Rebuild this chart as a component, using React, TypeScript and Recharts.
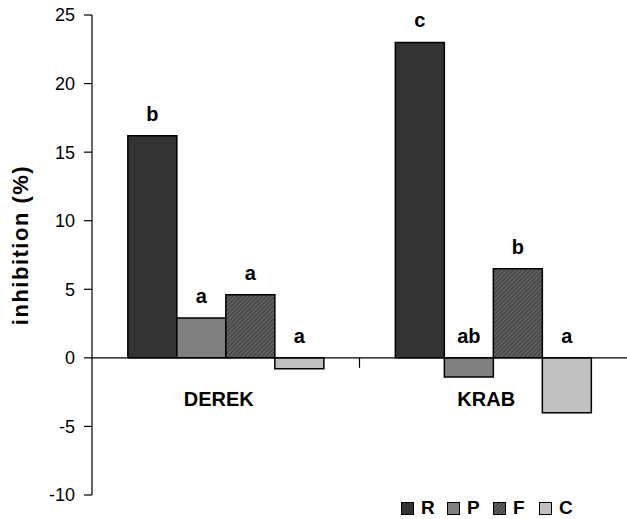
import { BarChart, Bar, XAxis, YAxis, Legend, ReferenceLine, ReferenceDot, LabelList } from 'recharts'

const categories = ['DEREK', 'KRAB']
const seriesNames = ['R', 'P', 'F', 'C']
const valuesR = [16.2, 23.0]
const valuesP = [2.9, -1.4]
const valuesF = [4.6, 6.5]
const valuesC = [-0.8, -4.0]
const lettersR = ['b', 'c']
const lettersP = ['a', 'ab']
const lettersF = ['a', 'b']
const lettersC = ['a', 'a']
const yTicks = [-10, -5, 0, 5, 10, 15, 20, 25]

const fills: Record<string, string> = {
  R: '#333333',
  P: '#808080',
  F: 'url(#hatchF)',
  C: '#c0c0c0',
}

const data = categories.map((name, i) => ({
  name,
  R: valuesR[i],
  P: valuesP[i],
  F: valuesF[i],
  C: valuesC[i],
  lR: lettersR[i],
  lP: lettersP[i],
  lF: lettersF[i],
  lC: lettersC[i],
}))

const font = 'Arial, "Liberation Sans", Helvetica, sans-serif'

// letter above each bar (above the zero line when the bar is negative)
const letterLabel = (props: any) => {
  const { x, y, width, height, value } = props
  const top = Math.min(y, y + height)
  return (
    <text x={x + width / 2} y={top - 15} textAnchor="middle" fontSize={20} fontWeight="bold" fontFamily={font} fill="#000">
      {value}
    </text>
  )
}

// x axis drawn at zero, with one tick between the two groups
const zeroAxis = (p: any) => {
  const mid = (p.x1 + p.x2) / 2
  return (
    <g>
      <line x1={p.x1} y1={p.y1} x2={p.x2} y2={p.y2} stroke="#000" strokeWidth={1.2} />
      <line x1={mid} y1={p.y1} x2={mid} y2={p.y1 + 10} stroke="#000" strokeWidth={1.2} />
    </g>
  )
}

const categoryLabel = (name: string) => (props: any) => {
  const vb = props.viewBox
  const cx = vb.x + vb.width / 2
  const cy = vb.y + vb.height / 2
  return (
    <text x={cx - 7} y={cy + 48} textAnchor="middle" fontSize={20} fontWeight="bold" fontFamily={font} fill="#000">
      {name}
    </text>
  )
}

const legendContent = (props: any) => {
  const payload = [...(props.payload || [])].sort(
    (a: any, b: any) => seriesNames.indexOf(a.value) - seriesNames.indexOf(b.value)
  )
  return (
    <div style={{ display: 'flex', fontFamily: font }}>
      {payload.map((entry: any) => (
        <div key={entry.value} style={{ display: 'flex', alignItems: 'center', width: 46 }}>
          <svg width={13} height={13} style={{ marginRight: 7 }}>
            <rect x={0.5} y={0.5} width={12} height={12} fill={entry.color} stroke="#000" strokeWidth={1} />
          </svg>
          <span style={{ fontSize: 19, fontWeight: 'bold', lineHeight: '14px' }}>{entry.value}</span>
        </div>
      ))}
    </div>
  )
}

export default function App() {
  return (
    <div style={{ position: 'absolute', left: 0, top: 0, width: 627, height: 519, background: '#fff' }}>
      <BarChart
        width={627}
        height={519}
        data={data}
        margin={{ top: 15, right: 0, left: 0, bottom: 24 }}
        barCategoryGap="13.4%"
        barGap={0}
      >
        <defs>
          <pattern id="hatchF" width={3} height={3} patternUnits="userSpaceOnUse" patternTransform="rotate(45)">
            <rect width={3} height={3} fill="#4a4a4a" />
            <line x1={0} y1={0} x2={0} y2={3} stroke="#8a8a8a" strokeWidth={1} />
          </pattern>
        </defs>
        <XAxis dataKey="name" hide height={0} />
        <YAxis
          width={92}
          domain={[-10, 25]}
          ticks={yTicks}
          interval={0}
          tickSize={8}
          tickMargin={9}
          axisLine={{ stroke: '#000', strokeWidth: 1.2 }}
          tickLine={{ stroke: '#000', strokeWidth: 1.2 }}
          tick={{ fill: '#000', fontSize: 18, fontFamily: font }}
          label={{
            content: () => (
              <text
                x={28}
                y={245}
                transform="rotate(-90 28 245)"
                textAnchor="middle"
                fontSize={22}
                fontWeight="bold"
                fontFamily={font}
                fill="#000"
                letterSpacing={1.5}
              >
                inhibition (%)
              </text>
            ),
          }}
        />
        <Legend
          layout="vertical"
          align="center"
          verticalAlign="middle"
          content={legendContent}
          wrapperStyle={{ position: 'absolute', left: 401, top: 501, width: 200 }}
        />
        {seriesNames.map((s) => (
          <Bar key={s} dataKey={s} name={s} fill={fills[s]} stroke="#000" strokeWidth={1.5} isAnimationActive={false}>
            <LabelList dataKey={'l' + s} content={letterLabel} />
          </Bar>
        ))}
        <ReferenceLine y={0} shape={zeroAxis} />
        {categories.map((c) => (
          <ReferenceDot key={c} x={c} y={0} r={0} fill="none" stroke="none" label={{ content: categoryLabel(c) }} />
        ))}
      </BarChart>
    </div>
  )
}
